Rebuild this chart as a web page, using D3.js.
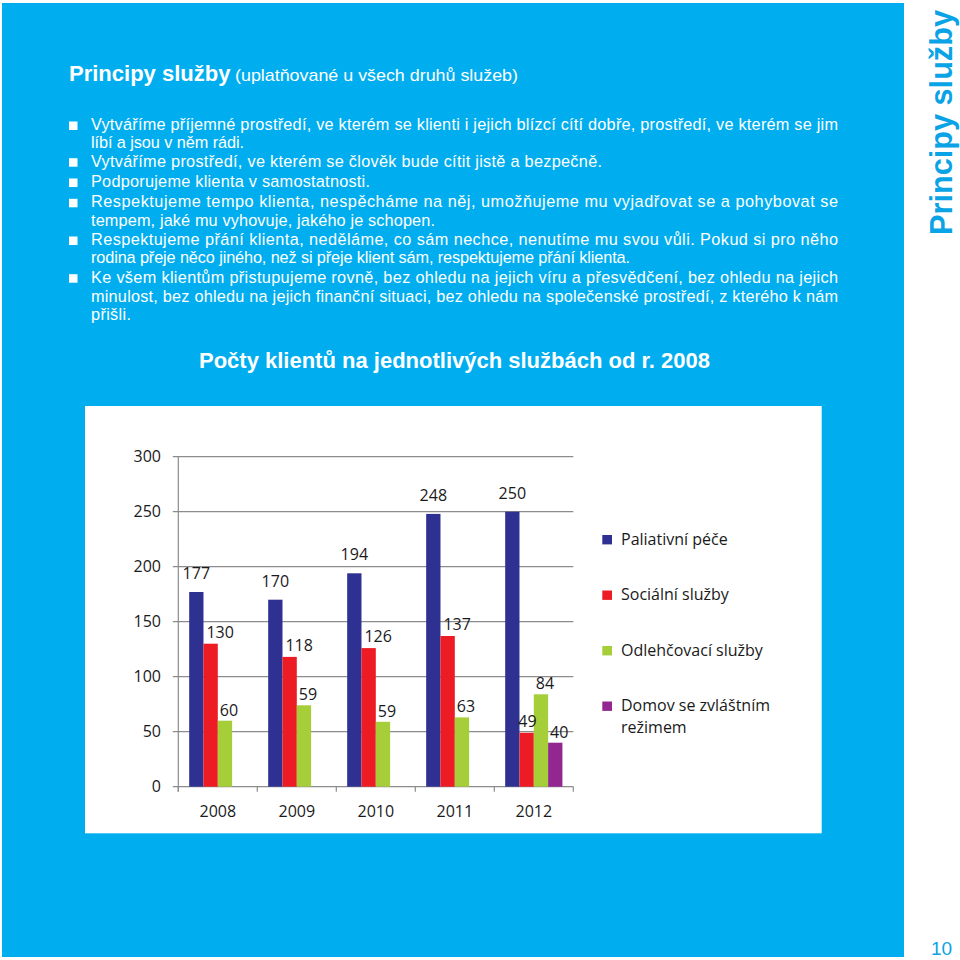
<!DOCTYPE html>
<html><head><meta charset="utf-8">
<script src="https://d3js.org/d3.v7.min.js"></script>
<style>html,body{margin:0;padding:0;background:#fff;}svg{display:block;}</style>
</head><body>
<svg id="c" width="960" height="960"></svg>
<script>
// ---- DATA ----
const years = ["2008", "2009", "2010", "2011", "2012"];
const seriesNames = ["Paliativní péče", "Sociální služby", "Odlehčovací služby", "Domov se zvláštním režimem"];
const paliativni  = [177, 170, 194, 248, 250];
const socialni    = [130, 118, 126, 137, 49];
const odlehcovaci = [60, 74, 59, 63, 84];          // bar heights as drawn
const odlehcovaciLabels = ["60", "59", "59", "63", "84"]; // labels as printed
const domov       = [null, null, null, null, 40];
const yTicks = [0, 50, 100, 150, 200, 250, 300];

const headerTitle = "Principy služby";
const headerSub = "(uplatňované u všech druhů služeb)";
const bulletLines = [
  {t:"Vytváříme příjemné prostředí, ve kterém se klienti i jejich blízcí cítí dobře, prostředí, ve kterém se jim", b:true, w:747},
  {t:"líbí a jsou v něm rádi.", b:false, w:153},
  {t:"Vytváříme prostředí, ve kterém se člověk bude cítit jistě a bezpečně.", b:true, w:511},
  {t:"Podporujeme klienta v samostatnosti.", b:true, w:279},
  {t:"Respektujeme tempo klienta, nespěcháme na něj, umožňujeme mu vyjadřovat se a pohybovat se", b:true, w:747},
  {t:"tempem, jaké mu vyhovuje, jakého je schopen.", b:false, w:344},
  {t:"Respektujeme přání klienta, neděláme, co sám nechce, nenutíme mu svou vůli. Pokud si pro něho", b:true, w:747},
  {t:"rodina přeje něco jiného, než si přeje klient sám, respektujeme přání klienta.", b:false, w:539},
  {t:"Ke všem klientům přistupujeme rovně, bez ohledu na jejich víru a přesvědčení, bez ohledu na jejich", b:true, w:747},
  {t:"minulost, bez ohledu na jejich finanční situaci, bez ohledu na společenské prostředí, z kterého k nám", b:false, w:747},
  {t:"přišli.", b:false, w:40}
];
const chartTitle = "Počty klientů na jednotlivých službách od r. 2008";

// ---- STYLE ----
const BLUE_BG = "#00AEEF";
const colors = ["#2E3192", "#ED1C24", "#A6CE39", "#92278F"];
const chartFont = "'Open Sans', 'DejaVu Sans', sans-serif";
const pageFont = "'Liberation Sans', Arial, sans-serif";

const svg = d3.select("#c");

// background panel
svg.append("rect").attr("x", 2).attr("y", 3).attr("width", 902).attr("height", 954).attr("fill", BLUE_BG);

// header
const head = svg.append("text").attr("x", 69).attr("y", 81).attr("fill", "#fff").attr("font-family", pageFont);
head.append("tspan").attr("font-weight", "bold").attr("font-size", 22).text(headerTitle);
svg.append("text").attr("x", 235).attr("y", 81).attr("fill", "#fff").attr("font-family", pageFont)
  .attr("font-size", 17).attr("textLength", 283).attr("lengthAdjust", "spacingAndGlyphs").text(headerSub);

// bullets
const baselines = [130, 148.3, 166.7, 187, 207.3, 225.7, 245, 263.3, 282.7, 301.7, 320];
bulletLines.forEach((l, i) => {
  const y = baselines[i];
  if (l.b) svg.append("rect").attr("x", 69).attr("y", y - 8.5).attr("width", 8.5).attr("height", 8.5).attr("fill", "#fff");
  svg.append("text").attr("x", 91).attr("y", y).attr("fill", "#fff").attr("font-family", pageFont)
    .attr("font-size", 16.3).attr("textLength", l.w).attr("lengthAdjust", "spacing").text(l.t);
});

// chart title
svg.append("text").attr("x", 454.5).attr("y", 368).attr("text-anchor", "middle").attr("fill", "#fff")
  .attr("font-family", pageFont).attr("font-weight", "bold").attr("font-size", 22).text(chartTitle);

// right sidebar
svg.append("text").attr("transform", "translate(952,235) rotate(-90)").attr("fill", "#0AA3E6")
  .attr("font-family", pageFont).attr("font-weight", "bold").attr("font-size", 30.5)
  .attr("textLength", 225).attr("lengthAdjust", "spacingAndGlyphs").text(headerTitle);
svg.append("text").attr("x", 941.5).attr("y", 955).attr("text-anchor", "middle").attr("fill", "#0AA3E6")
  .attr("font-family", pageFont).attr("font-size", 19).text("10");

// chart white box
svg.append("rect").attr("x", 85).attr("y", 406).attr("width", 736.7).attr("height", 427.3).attr("fill", "#fff");

// scales
const plot = {left: 178.3, right: 573.3, top: 456.7, bottom: 786.7};
const x = d3.scaleBand().domain(years).range([plot.left, plot.right]).paddingInner(0).paddingOuter(0);
const xs = d3.scaleBand().domain(d3.range(4)).range([0, x.bandwidth()]).paddingInner(0).paddingOuter(0.76);
const y = d3.scaleLinear().domain([0, 300]).range([plot.bottom, plot.top]);

const g = svg.append("g");
const gridColor = "#8C8C8C";

// gridlines + y labels
yTicks.forEach(t => {
  g.append("line").attr("x1", plot.left - 5.5).attr("x2", plot.right).attr("y1", y(t)).attr("y2", y(t))
    .attr("stroke", gridColor).attr("stroke-width", 1.2);
  g.append("text").attr("x", 161).attr("y", y(t)).attr("dy", "0.3em").attr("text-anchor", "end")
    .attr("font-family", chartFont).attr("font-size", 16).attr("fill", "#1a1a1a").text(t);
});
// y axis line
g.append("line").attr("x1", plot.left).attr("x2", plot.left).attr("y1", plot.top).attr("y2", plot.bottom + 5)
  .attr("stroke", gridColor).attr("stroke-width", 1.2);
// x ticks
years.concat(["end"]).forEach((yr, i) => {
  const xx = yr === "end" ? plot.right : x(yr);
  g.append("line").attr("x1", xx).attr("x2", xx).attr("y1", plot.bottom).attr("y2", plot.bottom + 5)
    .attr("stroke", gridColor).attr("stroke-width", 1.2);
});
// x labels
years.forEach(yr => {
  g.append("text").attr("x", x(yr) + x.bandwidth() / 2).attr("y", 816.7).attr("text-anchor", "middle")
    .attr("font-family", chartFont).attr("font-size", 16).attr("fill", "#1a1a1a").text(yr);
});

// bars
const allSeries = [paliativni, socialni, odlehcovaci, domov];
const labelSets = [paliativni.map(String), socialni.map(String), odlehcovaciLabels, domov.map(v => v == null ? "" : String(v))];
const labelOffset = [{dx: 0, dy: 13}, {dx: 9.5, dy: 6}, {dx: 4, dy: 5}, {dx: 4, dy: 5}];

allSeries.forEach((vals, si) => {
  vals.forEach((v, yi) => {
    if (v == null) return;
    const bx = x(years[yi]) + xs(si);
    g.append("rect").attr("x", bx).attr("y", y(v)).attr("width", xs.bandwidth()).attr("height", y(0) - y(v))
      .attr("fill", colors[si]);
  });
});
allSeries.forEach((vals, si) => {
  vals.forEach((v, yi) => {
    if (v == null) return;
    const bx = x(years[yi]) + xs(si) + xs.bandwidth() / 2;
    let dx = labelOffset[si].dx;
    const next = allSeries[si + 1] ? allSeries[si + 1][yi] : null;
    if (next != null && next > v) dx = 0.8;
    g.append("text").attr("x", bx + dx).attr("y", y(v) - labelOffset[si].dy).attr("text-anchor", "middle")
      .attr("font-family", chartFont).attr("font-size", 16).attr("fill", "#1a1a1a").text(labelSets[si][yi]);
  });
});

// legend
const legY = [539.7, 595.2, 650.7, 706.2];
seriesNames.forEach((name, i) => {
  const ly = legY[i];
  g.append("rect").attr("x", 602.3).attr("y", ly - 4.7).attr("width", 9.7).attr("height", 9.4).attr("fill", colors[i]);
  const lines = i === 3 ? ["Domov se zvláštním", "režimem"] : [name];
  lines.forEach((ln, k) => {
    g.append("text").attr("x", 621).attr("y", ly + k * 22).attr("dy", "0.33em")
      .attr("font-family", chartFont).attr("font-size", 16).attr("fill", "#1a1a1a").text(ln);
  });
});
</script>
</body></html>
